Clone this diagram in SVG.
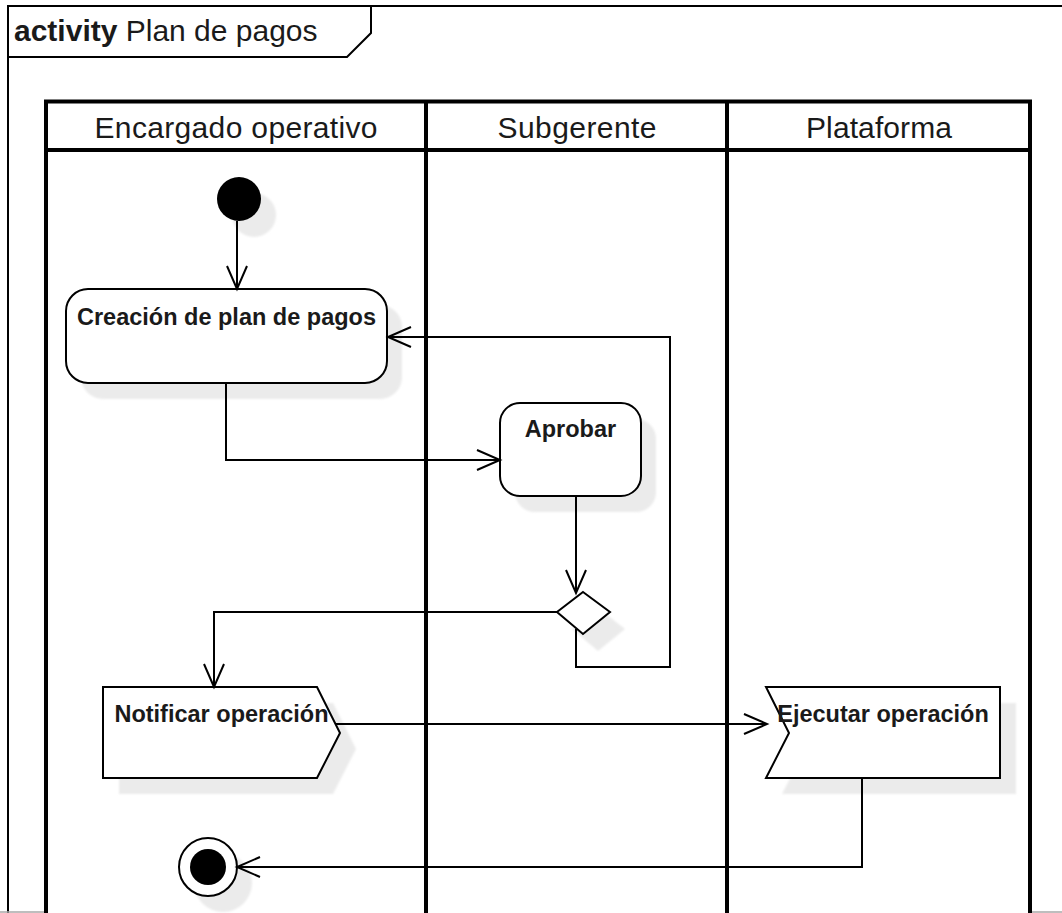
<svg xmlns="http://www.w3.org/2000/svg" width="1062" height="913" viewBox="0 0 1062 913">
  <defs>
    <style>
      .frame { fill: #ffffff; stroke: #000000; stroke-width: 2; }
      .pool { fill: none; stroke: #000000; stroke-width: 4; }
      .title { font-family: "Liberation Sans", Arial, sans-serif; font-size: 30px; fill: #1a1a1a; }
      .lane-label { font-family: "Liberation Sans", Arial, sans-serif; font-size: 30px; fill: #1a1a1a; text-anchor: middle; }
      .label { font-family: "Liberation Sans", Arial, sans-serif; font-size: 23.5px; font-weight: bold; fill: #1a1a1a; text-anchor: middle; }
      .shape { fill: #ffffff; stroke: #000000; stroke-width: 2; }
      .shadow { fill: #ebebeb; stroke: none; filter: url(#soft); }
      .solid { fill: #000000; stroke: none; }
      .edge { fill: none; stroke: #000000; stroke-width: 2; marker-end: url(#open-arrow); }
    </style>
    <filter id="soft" x="-20%" y="-20%" width="140%" height="140%">
      <feGaussianBlur stdDeviation="1.2"/>
    </filter>
    <marker id="open-arrow" markerUnits="userSpaceOnUse" markerWidth="30" markerHeight="26" refX="25" refY="12" orient="auto">
      <path d="M2,2 L25,12 L2,22" fill="none" stroke="#000000" stroke-width="2"/>
    </marker>
  </defs>

  <rect x="0" y="0" width="1062" height="913" fill="#ffffff"/>

  <!-- activity frame and its name tab -->
  <g id="frame">
    <path class="frame" d="M1075,6 L8,6 L8,925 L1075,925 Z"/>
    <path class="frame" d="M8,6 L371,6 L371,33 L347,57 L8,57 Z"/>
    <text class="title" x="14" y="41"><tspan font-weight="bold">activity</tspan> Plan de pagos</text>
    <line x1="0" y1="912" x2="1062" y2="912" stroke="#a8a8a8" stroke-width="1.5"/>
  </g>

  <!-- swimlane pool with three lanes -->
  <g id="pool">
    <rect x="46" y="101.5" width="984" height="830" fill="#ffffff" stroke="none"/>
    <path class="pool" d="M46,930 L46,101.5 L1030,101.5 L1030,930"/>
    <line class="pool" x1="46" y1="150" x2="1030" y2="150"/>
    <line class="pool" x1="426" y1="101.5" x2="426" y2="930"/>
    <line class="pool" x1="727" y1="101.5" x2="727" y2="930"/>
    <text class="lane-label" x="236" y="138" textLength="283" lengthAdjust="spacing">Encargado operativo</text>
    <text class="lane-label" x="577" y="138" textLength="159" lengthAdjust="spacing">Subgerente</text>
    <text class="lane-label" x="879" y="138" textLength="146" lengthAdjust="spacing">Plataforma</text>
  </g>

  <!-- nodes -->
  <g id="start">
    <circle class="shadow" cx="254" cy="215" r="22"/>
    <circle class="solid" cx="239" cy="199" r="22"/>
  </g>

  <g id="crear-plan">
    <rect class="shadow" x="81" y="305" width="321" height="94" rx="22"/>
    <rect class="shape" x="66" y="289" width="321" height="94" rx="22"/>
    <text class="label" x="226.5" y="325">Creación de plan de pagos</text>
  </g>

  <g id="aprobar">
    <rect class="shadow" x="515" y="419" width="141" height="93" rx="20"/>
    <rect class="shape" x="500" y="403" width="141" height="93" rx="20"/>
    <text class="label" x="570.5" y="437">Aprobar</text>
  </g>

  <g id="decision">
    <polygon class="shadow" points="598,608 625,629 598,651 572,629"/>
    <polygon class="shape" points="583,592 610,612 583,634 557,612"/>
  </g>

  <g id="notificar">
    <polygon class="shadow" points="119,703 333,703 356,749 333,794 119,794"/>
    <polygon class="shape" points="103,687 317,687 340,733 317,778 103,778"/>
    <text class="label" x="221.5" y="722">Notificar operación</text>
  </g>

  <g id="ejecutar">
    <polygon class="shadow" points="782,703 1016,703 1016,794 782,794 805,749"/>
    <polygon class="shape" points="766,687 1000,687 1000,778 766,778 789,733"/>
    <text class="label" x="883" y="722">Ejecutar operación</text>
  </g>

  <g id="end">
    <circle class="shadow" cx="223" cy="883" r="29"/>
    <circle class="shape" cx="208" cy="867" r="29"/>
    <circle class="solid" cx="208" cy="867" r="18"/>
  </g>

  <!-- control flows -->
  <g id="connectors">
    <path class="edge" d="M237,221 L237,289"/>
    <path class="edge" d="M226,383 L226,460 L500,460"/>
    <path class="edge" d="M576,496 L576,593"/>
    <path class="edge" d="M557,612 L214,612 L214,687"/>
    <path class="edge" d="M576,629 L576,667 L670,667 L670,337 L388,337"/>
    <path class="edge" d="M336,724 L767,724"/>
    <path class="edge" d="M862,778 L862,867 L237,867"/>
  </g>
</svg>
